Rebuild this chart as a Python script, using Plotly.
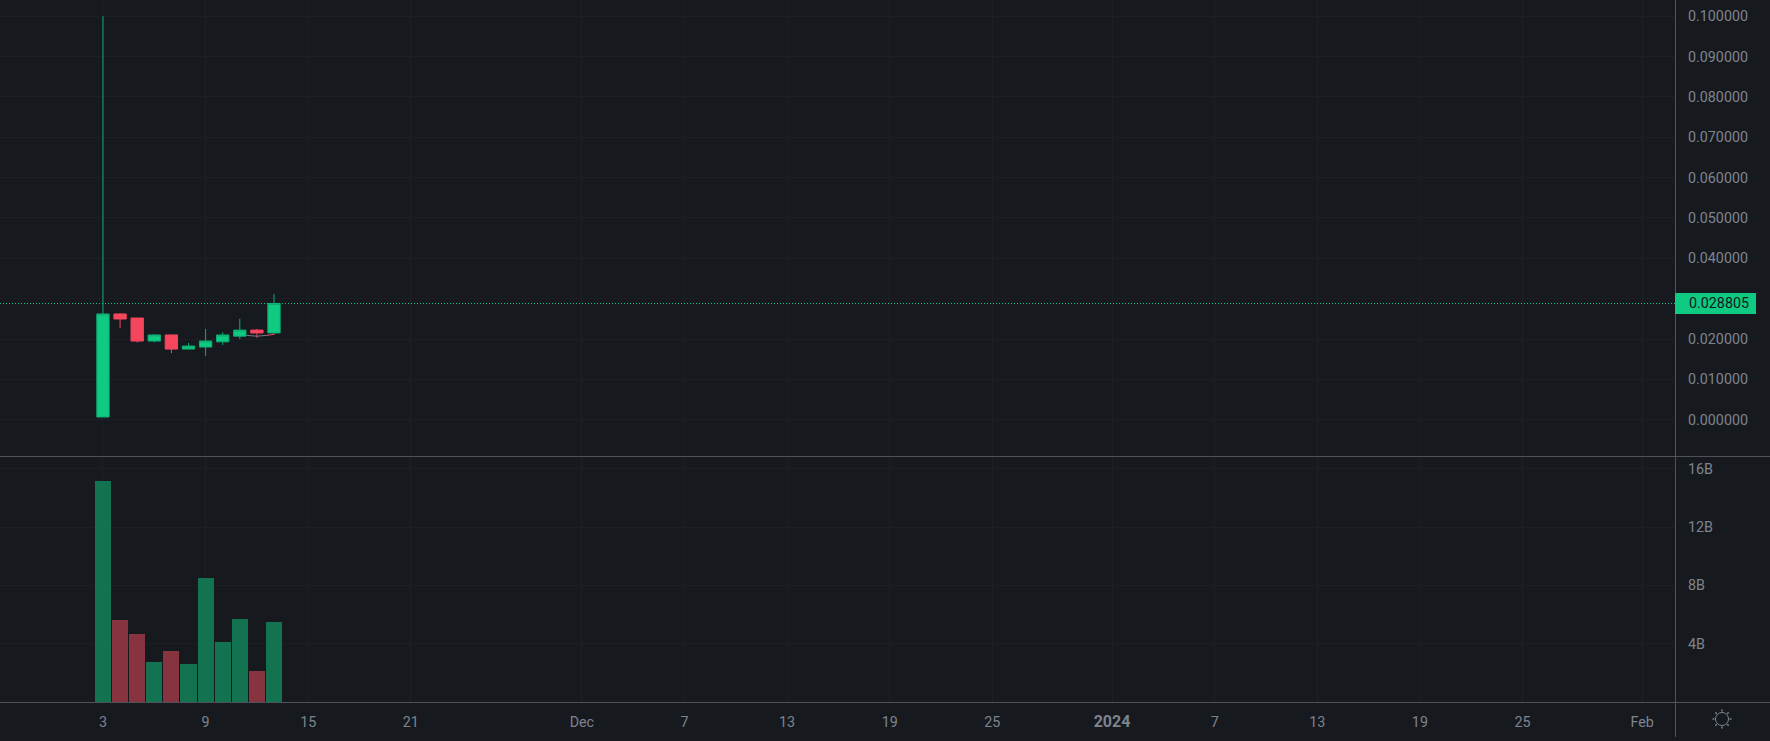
import plotly.graph_objects as go

# ---------- data ----------
DATES = ["2023-11-03", "2023-11-04", "2023-11-05", "2023-11-06", "2023-11-07", "2023-11-08",
         "2023-11-09", "2023-11-10", "2023-11-11", "2023-11-12", "2023-11-13"]
OPEN  = [0.00067, 0.0262, 0.0252, 0.0195, 0.0210, 0.0175, 0.0180, 0.0193, 0.0207, 0.0222, 0.0215]
HIGH  = [0.1000, 0.02644, 0.0252, 0.0212, 0.0210, 0.0190, 0.0225, 0.0217, 0.0250, 0.0225, 0.03115]
LOW   = [0.00067, 0.0227, 0.0191, 0.0192, 0.0165, 0.0175, 0.0158, 0.0185, 0.0200, 0.0203, 0.0213]
CLOSE = [0.0262, 0.02496, 0.0195, 0.0210, 0.0175, 0.01826, 0.0195, 0.0210, 0.0222, 0.0215, 0.028805]
VOLUME = [15.16e9, 5.63e9, 4.67e9, 2.74e9, 3.5e9, 2.6e9, 8.5e9, 4.12e9, 5.69e9, 2.13e9, 5.49e9]
LAST_PRICE = 0.028805

# faint moving-average stub near the last candles
MA_GREY_X = ["2023-11-11 09:00", "2023-11-12 00:00", "2023-11-12 14:00"]
MA_GREY_Y = [0.0209, 0.0207, 0.0209]
MA_RED_X = ["2023-11-12 14:00", "2023-11-13 01:00"]
MA_RED_Y = [0.0209, 0.0212]

PRICE_TICKS = [0.0, 0.01, 0.02, 0.03, 0.04, 0.05, 0.06, 0.07, 0.08, 0.09, 0.10]
# 0.03 keeps its grid line, but its label is covered by the last-price tag in the reference
PRICE_LABELS = ["0.000000", "0.010000", "0.020000", "", "0.040000", "0.050000", "0.060000",
                "0.070000", "0.080000", "0.090000", "0.100000"]
VOLUME_TICKS = [4e9, 8e9, 12e9, 16e9]
VOLUME_LABELS = ["4B", "8B", "12B", "16B"]
DATE_TICKS = ["2023-11-03", "2023-11-09", "2023-11-15", "2023-11-21", "2023-12-01", "2023-12-07",
              "2023-12-13", "2023-12-19", "2023-12-25", "2024-01-01", "2024-01-07", "2024-01-13",
              "2024-01-19", "2024-01-25", "2024-02-01"]
DATE_LABELS = ["3", "9", "15", "21", "Dec", "7", "13", "19", "25",
               '<b><span style="font-size:16px">2024</span></b>', "7", "13", "19", "25", "Feb"]
X_RANGE = ["2023-10-27 23:30", "2024-02-02 22:00"]

# ---------- style ----------
BG = "#161a1f"
GRID = "#1c2025"
AXIS = "#50535b"
TEXT = "#7f838e"
UP = "#0ecb81"
UP_WICK = "#10ab72"
DOWN = "#f6465d"
UP_VOL = "#137350"
DOWN_VOL = "#873340"
FONT = "Roboto"
FS = 14.3
W, H = 1770, 741
PLOT_R, PANE, BOTTOM = 1675.5, 456.5, 702.5
DAY_MS = 86400000


def px_x(v):
    return v / W


def px_y(v):
    return 1 - v / H


fig = go.Figure()
fig.add_trace(go.Candlestick(
    x=DATES, open=OPEN, high=HIGH, low=LOW, close=CLOSE,
    increasing=dict(line=dict(color=UP_WICK, width=1), fillcolor=UP),
    decreasing=dict(line=dict(color=DOWN, width=1), fillcolor=DOWN),
    whiskerwidth=0, xaxis="x", yaxis="y", showlegend=False,
))
fig.add_trace(go.Scatter(x=MA_GREY_X, y=MA_GREY_Y, mode="lines", line=dict(color="#787b86", width=1),
                         xaxis="x", yaxis="y", showlegend=False))
fig.add_trace(go.Scatter(x=MA_RED_X, y=MA_RED_Y, mode="lines", line=dict(color=DOWN, width=1),
                         xaxis="x", yaxis="y", showlegend=False))
fig.add_trace(go.Bar(
    x=DATES, y=VOLUME, width=0.94 * DAY_MS,
    marker=dict(color=[UP_VOL if c >= o else DOWN_VOL for o, c in zip(OPEN, CLOSE)], line=dict(width=0)),
    xaxis="x", yaxis="y2", showlegend=False,
))

y_min = (419.7 - 456) / 4035
y_max = 419.7 / 4035
vol_max = (702 - 457) / 58.3 * 4e9

fig.update_layout(
    width=W, height=H, margin=dict(l=0, r=0, t=0, b=0),
    paper_bgcolor=BG, plot_bgcolor=BG, bargap=0,
    boxgap=0.28, boxgroupgap=0,
    font=dict(family=FONT, size=FS, color=TEXT),
    xaxis=dict(
        domain=[0, 1675 / W], anchor="y2", type="date", range=X_RANGE,
        tickmode="array", tickvals=DATE_TICKS, ticktext=DATE_LABELS,
        showgrid=True, gridcolor=GRID, gridwidth=1, showline=False, zeroline=False,
        rangeslider=dict(visible=False), ticks="", ticklabelstandoff=10,
        tickfont=dict(family=FONT, size=FS, color=TEXT),
    ),
    yaxis=dict(
        domain=[px_y(456), 1], range=[y_min, y_max], side="right", anchor="x",
        tickmode="array", tickvals=PRICE_TICKS, ticktext=PRICE_LABELS,
        showgrid=True, gridcolor=GRID, gridwidth=1, zeroline=False, showline=False,
        ticks="", ticklabelstandoff=12,
        tickfont=dict(family=FONT, size=FS, color=TEXT),
    ),
    yaxis2=dict(
        domain=[px_y(702), px_y(457)], range=[0, vol_max], side="right", anchor="x",
        tickmode="array", tickvals=VOLUME_TICKS, ticktext=VOLUME_LABELS,
        showgrid=True, gridcolor=GRID, gridwidth=1, zeroline=False, showline=False,
        ticks="", ticklabelstandoff=12,
        tickfont=dict(family=FONT, size=FS, color=TEXT),
    ),
    shapes=[
        dict(type="line", xref="paper", yref="paper", x0=0, x1=1, y0=px_y(PANE), y1=px_y(PANE),
             line=dict(color=AXIS, width=1)),
        dict(type="line", xref="paper", yref="paper", x0=0, x1=1, y0=px_y(BOTTOM), y1=px_y(BOTTOM),
             line=dict(color=AXIS, width=1)),
        dict(type="line", xref="paper", yref="paper", x0=px_x(PLOT_R), x1=px_x(PLOT_R), y0=px_y(737), y1=1,
             line=dict(color=AXIS, width=1)),
        dict(type="line", xref="x", yref="y", x0=X_RANGE[0], x1=X_RANGE[1], y0=LAST_PRICE, y1=LAST_PRICE,
             line=dict(color=UP, width=1, dash="1px,2px")),
        dict(type="rect", xref="paper", yref="paper", x0=px_x(1675), x1=px_x(1756), y0=px_y(314), y1=px_y(293),
             fillcolor=UP, line=dict(width=0)),
    ],
    annotations=[
        dict(xref="paper", yref="y", x=px_x(1688), y=LAST_PRICE, xanchor="left", yanchor="middle",
             text=f"{LAST_PRICE:.6f}", showarrow=False, borderpad=0,
             font=dict(family=FONT, size=FS, color="#131722")),
    ],
)

# settings (sun) icon in the corner cell
cx, cy, r = 1722, 719, 6.5
fig.add_shape(type="circle", xref="paper", yref="paper",
              x0=px_x(cx - r), x1=px_x(cx + r), y0=px_y(cy + r), y1=px_y(cy - r),
              line=dict(color=TEXT, width=1))
for dx, dy in [(0, -1), (0, 1), (-1, 0), (1, 0), (-.7, -.7), (.7, -.7), (-.7, .7), (.7, .7)]:
    fig.add_shape(type="line", xref="paper", yref="paper",
                  x0=px_x(cx + dx * 7.5), x1=px_x(cx + dx * 9.5), y0=px_y(cy + dy * 7.5), y1=px_y(cy + dy * 9.5),
                  line=dict(color=TEXT, width=1.5))

fig.write_html("out.html", config=dict(displayModeBar=False),
               post_script="document.body.style.margin='0';document.body.style.background='%s';document.body.style.overflow='hidden';" % BG)
